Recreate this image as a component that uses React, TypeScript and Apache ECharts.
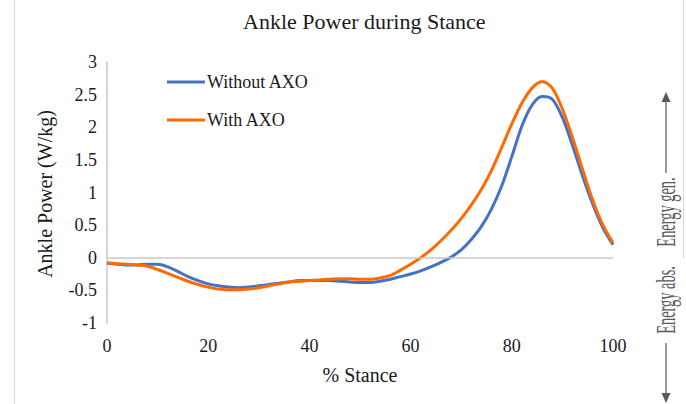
import { useEffect, useRef } from "react";
import * as echarts from "echarts";

// % of stance phase, sampled every 2 %
const stance = [
  0, 2, 4, 6, 8, 10, 12, 14, 16, 18, 20, 22, 24, 26, 28, 30, 32, 34, 36, 38, 40,
  42, 44, 46, 48, 50, 52, 54, 56, 58, 60, 62, 64, 66, 68, 70, 72, 74, 76, 78, 80,
  82, 84, 86, 88, 90, 92, 94, 96, 98, 100,
];

// Ankle power (W/kg) without the exoskeleton
const withoutAxo = [
  -0.08, -0.1, -0.11, -0.11, -0.1, -0.1, -0.14, -0.21, -0.29, -0.35, -0.4,
  -0.43, -0.45, -0.46, -0.45, -0.43, -0.41, -0.39, -0.37, -0.35, -0.35, -0.35,
  -0.35, -0.36, -0.37, -0.38, -0.38, -0.36, -0.33, -0.29, -0.25, -0.2, -0.14,
  -0.07, 0.01, 0.12, 0.28, 0.48, 0.75, 1.1, 1.55, 2.02, 2.34, 2.47, 2.43, 2.15,
  1.72, 1.25, 0.82, 0.46, 0.2,
];

// Ankle power (W/kg) with the exoskeleton
const withAxo = [
  -0.08, -0.09, -0.1, -0.11, -0.13, -0.18, -0.24, -0.3, -0.36, -0.41, -0.45,
  -0.48, -0.49, -0.49, -0.48, -0.46, -0.43, -0.4, -0.37, -0.36, -0.35, -0.34,
  -0.33, -0.32, -0.32, -0.33, -0.33, -0.31, -0.27, -0.19, -0.1, 0.0, 0.12, 0.26,
  0.42, 0.6, 0.81, 1.05, 1.34, 1.69, 2.05, 2.37, 2.6, 2.7, 2.6, 2.28, 1.84, 1.35,
  0.88, 0.5, 0.23,
];

const seriesNames = ["Without AXO", "With AXO"];
const seriesColors = ["#4472C4", "#FF6A00"];

const SERIF = "Liberation Serif";
const TEXT = "#1a1a1a";
const NOTE = "#595959";

export default function App() {
  const ref = useRef<HTMLDivElement>(null);

  useEffect(() => {
    if (!ref.current) return;
    const chart = echarts.init(ref.current, undefined, { renderer: "svg" });

    const toPairs = (ys: number[]) => stance.map((x, i) => [x, ys[i]]);

    const rotatedNote = (text: string, y: number) => ({
      type: "text",
      x: 666,
      y,
      rotation: Math.PI / 2,
      scaleX: 0.8,
      scaleY: 1.5,
      style: {
        text,
        fill: NOTE,
        fontFamily: SERIF,
        fontSize: 18,
        align: "center",
        verticalAlign: "middle",
      },
    });

    chart.setOption({
      animation: false,
      backgroundColor: "#ffffff",
      textStyle: { fontFamily: SERIF },
      title: {
        text: "Ankle Power during Stance",
        left: 238,
        top: 5,
        textStyle: {
          fontFamily: SERIF,
          fontSize: 22,
          fontWeight: "normal",
          color: TEXT,
        },
      },
      legend: {
        orient: "vertical",
        left: 162,
        top: 67,
        itemGap: 18,
        itemWidth: 38,
        itemHeight: 3,
        icon: "rect",
        data: seriesNames,
        textStyle: {
          fontFamily: SERIF,
          fontSize: 18,
          color: TEXT,
          padding: [0, 0, 0, -3],
          lineHeight: 20,
        },
      },
      grid: { left: 107, right: 73, top: 62, bottom: 81, containLabel: false },
      xAxis: {
        type: "value",
        min: 0,
        max: 100,
        interval: 20,
        axisLine: { show: false },
        axisTick: { show: false },
        splitLine: { show: false },
        axisLabel: {
          margin: 14,
          fontFamily: SERIF,
          fontSize: 18,
          color: TEXT,
        },
      },
      yAxis: {
        type: "value",
        min: -1,
        max: 3,
        interval: 0.5,
        axisLine: { show: true, lineStyle: { color: "#c8c8c8", width: 1.5 } },
        axisTick: { show: false },
        splitLine: { show: false },
        axisLabel: {
          margin: 10,
          fontFamily: SERIF,
          fontSize: 18,
          color: TEXT,
        },
      },
      series: [
        {
          name: seriesNames[0],
          type: "line",
          data: toPairs(withoutAxo),
          smooth: 0.3,
          symbol: "none",
          lineStyle: { color: seriesColors[0], width: 3 },
          itemStyle: { color: seriesColors[0] },
          markLine: {
            silent: true,
            symbol: ["none", "none"],
            label: { show: false },
            lineStyle: { color: "#c8c8c8", width: 1.5, type: "solid" },
            data: [{ yAxis: 0 }],
          },
        },
        {
          name: seriesNames[1],
          type: "line",
          data: toPairs(withAxo),
          smooth: 0.3,
          symbol: "none",
          lineStyle: { color: seriesColors[1], width: 3 },
          itemStyle: { color: seriesColors[1] },
        },
      ],
      graphic: [
        // outer frame edges
        {
          type: "line",
          shape: { x1: 14.5, y1: 0, x2: 14.5, y2: 404 },
          style: { stroke: "#d9d9d9", lineWidth: 1 },
        },
        {
          type: "line",
          shape: { x1: 683.5, y1: 0, x2: 683.5, y2: 258 },
          style: { stroke: "#d9d9d9", lineWidth: 1 },
        },
        // axis titles
        {
          type: "text",
          x: 45,
          y: 194,
          rotation: Math.PI / 2,
          style: {
            text: "Ankle Power (W/kg)",
            fill: TEXT,
            fontFamily: SERIF,
            fontSize: 20,
            align: "center",
            verticalAlign: "middle",
          },
        },
        {
          type: "text",
          x: 360,
          y: 375,
          style: {
            text: "% Stance",
            fill: TEXT,
            fontFamily: SERIF,
            fontSize: 20,
            align: "center",
            verticalAlign: "middle",
          },
        },
        // energy generation / absorption annotation
        rotatedNote("Energy gen.", 212),
        {
          type: "line",
          shape: { x1: 666, y1: 173, x2: 666, y2: 101 },
          style: { stroke: NOTE, lineWidth: 1.2 },
        },
        {
          type: "polygon",
          shape: { points: [[666, 92], [661.5, 102], [670.5, 102]] },
          style: { fill: NOTE },
        },
        rotatedNote("Energy abs.", 300),
        {
          type: "line",
          shape: { x1: 666, y1: 343, x2: 666, y2: 394 },
          style: { stroke: NOTE, lineWidth: 1.2 },
        },
        {
          type: "polygon",
          shape: { points: [[666, 403], [661.5, 393], [670.5, 393]] },
          style: { fill: NOTE },
        },
      ],
    });

    return () => chart.dispose();
  }, []);

  return (
    <div
      ref={ref}
      style={{ position: "fixed", left: 0, top: 0, width: 686, height: 404 }}
    />
  );
}
